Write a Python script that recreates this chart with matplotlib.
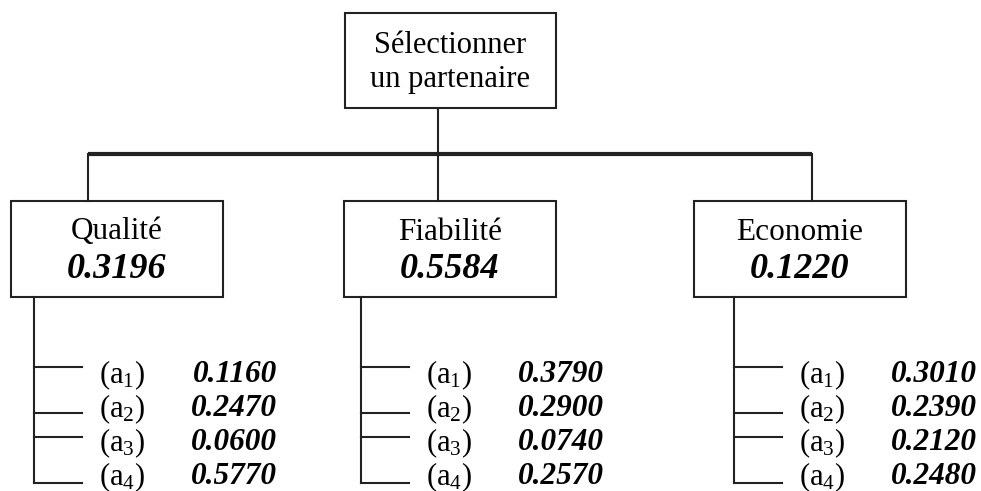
import matplotlib
matplotlib.use("Agg")
import matplotlib.pyplot as plt
from matplotlib.patches import Rectangle

plt.rcParams['font.family'] = ['Liberation Serif', 'DejaVu Serif']
plt.rcParams['mathtext.fontset'] = 'custom'
plt.rcParams['mathtext.rm'] = 'Liberation Serif'
plt.rcParams['mathtext.default'] = 'regular'

# données de la hiérarchie
goal = ["Sélectionner", "un partenaire"]
criteres = ["Qualité", "Fiabilité", "Economie"]
poids_criteres = ["0.3196", "0.5584", "0.1220"]
alternatives = ["1", "2", "3", "4"]
poids_alt = [
    ["0.1160", "0.2470", "0.0600", "0.5770"],
    ["0.3790", "0.2900", "0.0740", "0.2570"],
    ["0.3010", "0.2390", "0.2120", "0.2480"],
]

# mise en page (pixels)
box_left = [11, 344, 694]
box_w, box_top, box_bot = 212, 201, 297
conn_x = [88, 438, 812]
stem_x = [34, 361, 734]
tick_y = [367, 413, 437, 483]
text_y = [375, 409, 443, 477]
bar_y = 154

fig = plt.figure(figsize=(9.81, 4.91), dpi=100)
ax = fig.add_axes([0, 0, 1, 1])
ax.set_xlim(0, 981)
ax.set_ylim(491, 0)
ax.axis('off')

lw = 1.5
# boîte objectif
ax.add_patch(Rectangle((345, 13), 211, 95, fill=False, lw=lw, ec='#222222'))
ax.text(450, 45, goal[0], ha='center', va='center', fontsize=22)
ax.text(450, 79, goal[1], ha='center', va='center', fontsize=22)
ax.plot([438, 438], [108, bar_y], color='#222222', lw=lw)
ax.plot([conn_x[0], conn_x[-1]], [bar_y, bar_y], color='#222222', lw=3, solid_capstyle='butt')

for i, nom in enumerate(criteres):
    x0 = box_left[i]
    ax.plot([conn_x[i], conn_x[i]], [bar_y, box_top], color='#222222', lw=lw)
    ax.add_patch(Rectangle((x0, box_top), box_w, box_bot - box_top, fill=False, lw=lw, ec='#222222'))
    cx = x0 + box_w / 2
    ax.text(cx, 232, nom, ha='center', va='center', fontsize=22.5)
    ax.text(cx, 270, poids_criteres[i], ha='center', va='center', fontsize=26,
            fontweight='bold', fontstyle='italic')

    sx = stem_x[i]
    ax.plot([sx, sx], [box_bot, tick_y[-1]], color='#222222', lw=lw)
    for j, a in enumerate(alternatives):
        ax.plot([sx, sx + 48], [tick_y[j], tick_y[j]], color='#222222', lw=lw)
        ax.text(sx + 65, text_y[j], "(a$_{" + a + "}$)", ha='left', va='center', fontsize=22)
        ax.text(sx + 243, text_y[j], poids_alt[i][j], ha='right', va='center', fontsize=22.5,
                fontweight='bold', fontstyle='italic')

fig.savefig("out.png", dpi=100)
